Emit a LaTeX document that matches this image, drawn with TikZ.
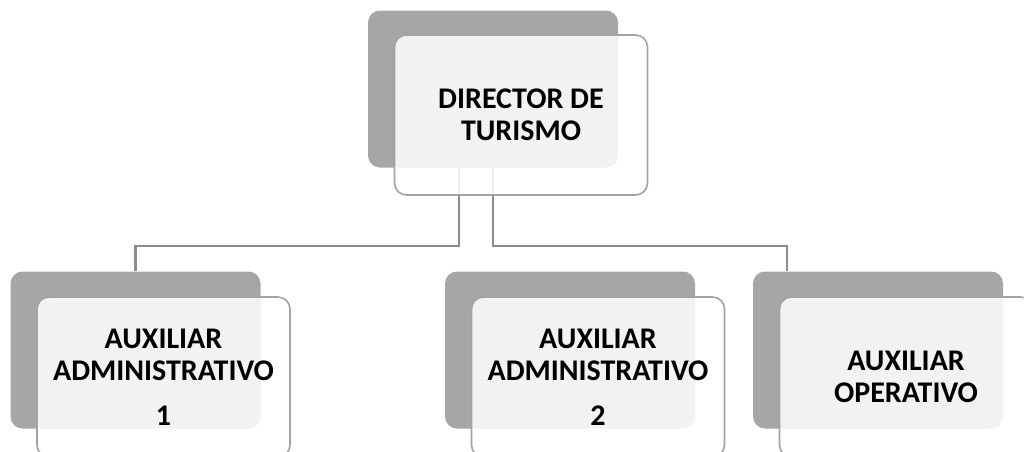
\documentclass[tikz,border=0pt]{standalone}
\usepackage{fontspec}
\setmainfont{Carlito}
\usepackage{tikz}
\usetikzlibrary{positioning}

\definecolor{backgray}{HTML}{A6A6A6}
\definecolor{edgegray}{HTML}{A3A3A3}
\definecolor{linegray}{HTML}{8C8C8C}

\begin{document}
\begin{tikzpicture}[x=1pt, y=-1pt,
  back/.style={fill=backgray, rounded corners=12pt, minimum width=250pt, minimum height=157pt, inner sep=0pt},
  front/.style={draw=edgegray, line width=1.6pt, fill=white, fill opacity=0.86, text opacity=1, rounded corners=12pt, minimum width=253pt, minimum height=160pt, inner sep=0pt, align=center, font=\fontsize{30}{32}\selectfont\bfseries},
  conn/.style={draw=linegray, line width=2.4pt}]
\clip (0,0) rectangle (1024,451);

% shadow boxes
\node [back] (dirback) at (493,89) {};
\node [back] (aux1back) at (135.5,350) {};
\node [back] (aux2back) at (570,350) {};
\node [back] (opback) at (878,350) {};

% connectors
\coordinate (bus) at (0,246);
\coordinate (optop) at ([xshift=-91pt]opback.north);
\draw [conn] ([xshift=-34pt]dirback.south) |- (bus -| aux1back.north) -- (aux1back.north);
\draw [conn] (dirback.south) |- (bus -| optop) -- (optop);

% front boxes
\node [front] (dir) at ([shift={(28,26)}]dirback.center) {DIRECTOR DE\\TURISMO};
\node [front] (aux1) at ([shift={(28,27)}]aux1back.center) {AUXILIAR\\ADMINISTRATIVO\\[13pt]1};
\node [front] (aux2) at ([shift={(28,27)}]aux2back.center) {AUXILIAR\\ADMINISTRATIVO\\[13pt]2};
\node [front] (op) at ([shift={(28,27)}]opback.center) {AUXILIAR\\OPERATIVO};
\end{tikzpicture}
\end{document}
